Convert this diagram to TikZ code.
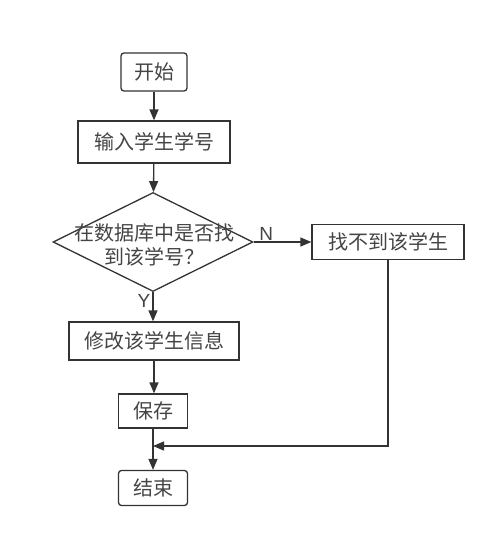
\documentclass[tikz,border=0pt]{standalone}
\usepackage{fontspec}
\setmainfont{Noto Sans CJK SC}
\setsansfont{Liberation Sans}
\usetikzlibrary{shapes.geometric, arrows.meta, positioning}
\definecolor{lineclr}{HTML}{333333}
\definecolor{textclr}{HTML}{444444}
\tikzset{
    box/.style={draw=lineclr, line width=1.3pt, text=textclr, minimum height=36pt, inner sep=0pt, font=\fontsize{20}{24}\selectfont},
    roundbox/.style={box, rounded corners=3pt},
    decision/.style={draw=lineclr, line width=1.3pt, diamond, aspect=2, inner sep=0pt},
    flow/.style={draw=lineclr, line width=1.3pt, -{Triangle[length=11pt, width=9pt]}},
    branch/.style={text=textclr, font=\sffamily\fontsize{19}{20}\selectfont}
}
\begin{document}
\begin{tikzpicture}[x=1pt, y=-1pt]
    \useasboundingbox (0, 0) rectangle (499, 543);
    % main column
    \node[roundbox, minimum width=66pt, minimum height=38pt] (start) at (154, 72) {开始};
    \node[box, minimum width=152pt, minimum height=42pt] (input) at (154, 142) {输入学生学号};
    \node[decision, minimum width=200pt, minimum height=99pt] (found) at (153, 242) {};
    \node[text=textclr, font=\fontsize{20}{24}\selectfont, align=center] (foundtext) at (154, 245) {在数据库中是否找\\到该学号？};
    \node[box, minimum width=152pt, minimum height=35pt] (notfound) at (388, 242) {找不到该学生};
    \node[box, minimum width=170pt, minimum height=38pt] (modify) at (154, 341) {修改该学生信息};
    \node[box, minimum width=69pt, minimum height=34pt] (save) at (153, 411) {保存};
    \node[roundbox, minimum width=69pt, minimum height=35pt] (finish) at (153, 488) {结束};
    \coordinate (join) at (153, 446);

    % connectors
    \draw[flow] (start) -- (input);
    \draw[flow] (input) -- (found);
    \draw[flow] (found.east) -- node[branch, above, pos=0.22, inner sep=1pt] {N} (notfound.west);
    \draw[flow] (found.south) -- node[branch, left, pos=0.3, inner sep=2pt] {Y} (modify.north -| found.south);
    \draw[flow] (modify) -- (save.north -| modify.south);
    \draw[flow] (save) -- (finish);
    \draw[flow] (notfound.south) |- (join);
\end{tikzpicture}
\end{document}
